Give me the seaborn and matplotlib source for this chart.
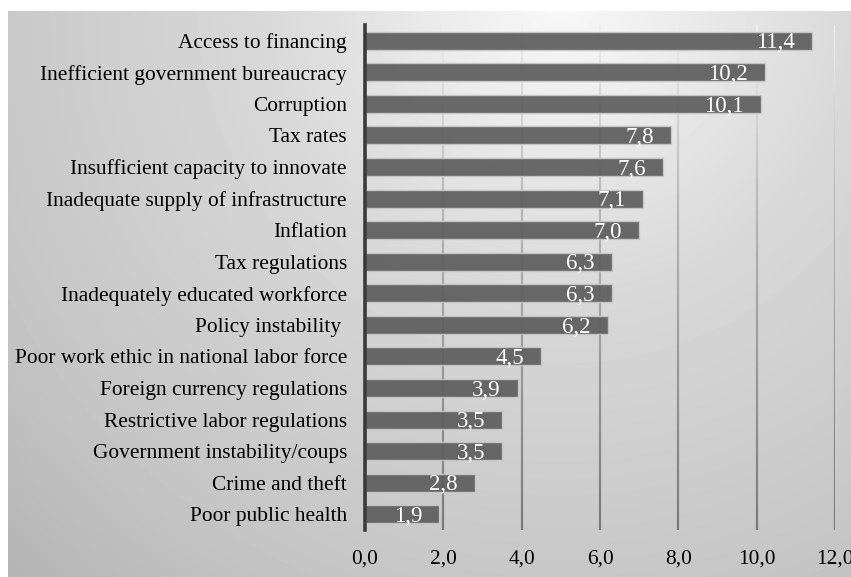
import numpy as np
import pandas as pd
import matplotlib
matplotlib.use("Agg")
import matplotlib.pyplot as plt
from matplotlib.collections import LineCollection
import seaborn as sns

categories = [
    "Access to financing",
    "Inefficient government bureaucracy",
    "Corruption",
    "Tax rates",
    "Insufficient capacity to innovate",
    "Inadequate supply of infrastructure",
    "Inflation",
    "Tax regulations",
    "Inadequately educated workforce",
    "Policy instability ",
    "Poor work ethic in national labor force",
    "Foreign currency regulations",
    "Restrictive labor regulations",
    "Government instability/coups",
    "Crime and theft",
    "Poor public health",
]
values = [11.4, 10.2, 10.1, 7.8, 7.6, 7.1, 7.0, 6.3, 6.3, 6.2, 4.5, 3.9, 3.5, 3.5, 2.8, 1.9]
x_ticks = [0, 2, 4, 6, 8, 10, 12]

df = pd.DataFrame({"factor": categories, "value": values})

sns.set_theme(style="white")
plt.rcParams["font.family"] = ["Liberation Serif", "DejaVu Serif"]

W, H = 851, 577
fig = plt.figure(figsize=(W / 100, H / 100), dpi=100, facecolor="white")

# background gradient panel
bx0, by0 = 8, 11
bg = fig.add_axes([bx0 / W, 0, (W - bx0) / W, (H - by0) / H], zorder=-5)
yy, xx = np.mgrid[by0:H, bx0:W]
r = np.hypot(xx - 560, yy - 0)
shade = np.interp(r, [0, 300, 630, 820], [248, 216, 196, 178]) / 255.0
bg.imshow(shade, cmap="gray", vmin=0, vmax=1, aspect="auto", interpolation="bilinear")
bg.set_axis_off()

ax = fig.add_axes([365 / W, 1 - 530 / H, 470 / W, 505 / H])
ax.patch.set_alpha(0)

sns.barplot(data=df, x="value", y="factor", orient="h", ax=ax,
            color="#5e5e5e", saturation=1, width=0.57,
            edgecolor="#c8c8c8", linewidth=1.0, alpha=0.93, zorder=2)

ax.set_xlim(0, 12)
ax.set_ylim(15.5, -0.5)
ax.set_xticks(x_ticks)
ax.set_xticklabels([f"{t:.1f}".replace(".", ",") for t in x_ticks])

# gridlines with a vertical tone gradient (light at top, dark at bottom)
nseg = 60
ys = np.linspace(-0.5, 15.5, nseg + 1)
segs, cols = [], []
for t in x_ticks[1:]:
    for k in range(nseg):
        segs.append([(t, ys[k]), (t, ys[k + 1])])
        f = k / (nseg - 1)
        g = np.interp(f, [0, 0.35, 1], [0.93, 0.72, 0.48])
        cols.append((g, g, g))
ax.add_collection(LineCollection(segs, colors=cols, linewidths=1.6, zorder=1))

ax.set_xlabel("")
ax.set_ylabel("")
for s in ["top", "right", "bottom"]:
    ax.spines[s].set_visible(False)
ax.spines["left"].set_color("#3a3a3a")
ax.spines["left"].set_linewidth(2.6)
ax.spines["left"].set_zorder(5)
ax.tick_params(axis="y", length=0, pad=13, labelsize=15.4, labelcolor="black")
ax.tick_params(axis="x", length=0, pad=14, labelsize=15.4, labelcolor="black")

for i, v in enumerate(values):
    ax.text(v - 0.43, i + 0.07, f"{v:.1f}".replace(".", ","), ha="right", va="center",
            color="white", fontsize=16.5, zorder=6)

fig.savefig("out.png", dpi=100, facecolor="white")
